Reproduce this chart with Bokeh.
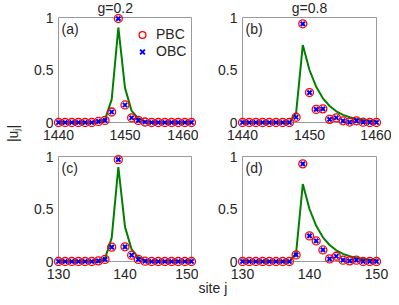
from bokeh.plotting import figure
from bokeh.layouts import gridplot, row
from bokeh.models import ColumnDataSource, Label, Legend, LegendItem, Range1d, FixedTicker, Title
from bokeh.embed import file_html
from bokeh.resources import INLINE

# ---------------- data ----------------
sites_top = [1440, 1441, 1442, 1443, 1444, 1445, 1446, 1447, 1448, 1449, 1450,
             1451, 1452, 1453, 1454, 1455, 1456, 1457, 1458, 1459, 1460]
sites_bot = [130, 131, 132, 133, 134, 135, 136, 137, 138, 139, 140,
             141, 142, 143, 144, 145, 146, 147, 148, 149, 150]

pbc_a = [0, 0, 0, 0, 0, 0, 0.01, 0.02, 0.10, 0.99, 0.167, 0.045, 0.02, 0.005, 0, 0, 0, 0, 0, 0, 0]
obc_a = [0, 0, 0, 0, 0, 0, 0.01, 0.02, 0.10, 0.99, 0.167, 0.045, 0.02, 0.005, 0, 0, 0, 0, 0, 0, 0]
line_a = [0, 0, 0, 0, 0, 0, 0, 0.03, 0.22, 0.905, 0.33, 0.11, 0.04, 0.008, 0.002, 0, 0, 0, 0, 0, 0]

pbc_b = [0, 0, 0, 0, 0, 0, 0, 0, 0.05, 0.94, 0.285, 0.125, 0.13, 0.03, 0.045, 0.016, 0.004, 0.016, 0.003, 0, 0]
obc_b = [0, 0, 0, 0, 0, 0, 0, 0, 0.05, 0.94, 0.285, 0.125, 0.13, 0.03, 0.045, 0.016, 0.004, 0.016, 0.003, 0, 0]
line_b = [0, 0, 0, 0, 0, 0, 0, 0, 0.09, 0.737, 0.50, 0.34, 0.23, 0.157, 0.107, 0.073, 0.05, 0.034, 0.023, 0.016, 0.011]

pbc_c = [0, 0, 0, 0, 0, 0, 0.006, 0.02, 0.137, 0.97, 0.14, 0.06, 0.02, 0.003, 0, 0, 0, 0, 0, 0, 0]
obc_c = [0, 0, 0, 0, 0, 0, 0.006, 0.02, 0.137, 0.97, 0.14, 0.06, 0.02, 0.003, 0, 0, 0, 0, 0, 0, 0]
line_c = [0, 0, 0, 0, 0, 0, 0, 0.03, 0.225, 0.90, 0.33, 0.115, 0.04, 0.01, 0.002, 0, 0, 0, 0, 0, 0]

pbc_d = [0, 0, 0, 0, 0, 0, 0, 0, 0.063, 0.93, 0.244, 0.196, 0.11, 0.025, 0.05, 0.013, 0.006, 0.013, 0, 0, 0]
obc_d = [0, 0, 0, 0, 0, 0, 0, 0, 0.063, 0.93, 0.244, 0.196, 0.11, 0.025, 0.05, 0.013, 0.006, 0.013, 0, 0, 0]
line_d = [0, 0, 0, 0, 0, 0, 0, 0, 0.08, 0.737, 0.50, 0.34, 0.23, 0.157, 0.107, 0.073, 0.05, 0.034, 0.023, 0.016, 0.011]

titles = ["g=0.2", "g=0.8"]
panel_tags = ["(a)", "(b)", "(c)", "(d)"]
x_ticks_top = [1440, 1450, 1460]
x_ticks_bot = [130, 140, 150]
y_ticks = [0, 0.5, 1]
y_label = "|uⱼ|"
x_label = "site j"

FONT = "Liberation Sans"
TXT = "#262626"
AX = "#9a9a9a"
BH = 105      # axes box height (px)
PAD = 5       # room around the box so markers on the box edges are not clipped


def make_panel(sites, pbc, obc, line, ticks, tag, left, bw, right, top, bottom,
               title=None, title_align="center", title_offset=0, legend=False):
    x0, x1 = sites[0], sites[-1]
    y0, y1 = y_ticks[0], y_ticks[-1]
    xpad = PAD * (x1 - x0) / bw
    ypad = PAD * (y1 - y0) / BH
    p = figure(frame_width=bw + 2 * PAD, frame_height=BH + 2 * PAD, output_backend="svg",
               toolbar_location=None,
               x_range=Range1d(x0 - xpad, x1 + xpad), y_range=Range1d(y0 - ypad, y1 + ypad),
               min_border_left=left, min_border_right=right, min_border_top=top, min_border_bottom=bottom)
    p.background_fill_color = "white"
    p.border_fill_color = "white"
    p.outline_line_color = None
    p.grid.visible = False
    for ax in (p.xaxis[0], p.yaxis[0]):
        ax.axis_line_color = None
        ax.major_tick_line_color = None
        ax.major_tick_in = 0
        ax.major_tick_out = 0
        ax.minor_tick_line_color = None
        ax.major_label_text_font = FONT
        ax.major_label_text_font_size = "14px"
        ax.major_label_text_color = TXT
    p.xaxis[0].ticker = FixedTicker(ticks=ticks)
    p.yaxis[0].ticker = FixedTicker(ticks=y_ticks)
    p.xaxis[0].major_label_standoff = 2
    p.yaxis[0].major_label_standoff = 0
    p.yaxis[0].major_label_overrides = {0: "0", 0.5: "0.5", 1: "1"}

    # axes box: an unfilled quad spanning the data extent, drawn first so the markers sit on top
    p.quad(left=[x0], right=[x1], bottom=[y0], top=[y1], fill_color=None,
           line_color=AX, line_width=1)

    src = ColumnDataSource(dict(x=sites, pbc=pbc, obc=obc, line=line))
    p.line("x", "line", source=src, line_color="#008000", line_width=2)
    rp = p.scatter("x", "pbc", source=src, marker="circle", size=8, fill_color=None,
                   line_color="#ff0000", line_width=1.3)
    ro = p.scatter("x", "obc", source=src, marker="x", size=6, line_color="#0000ff", line_width=2)

    p.add_layout(Label(x=x0, y=1 - 11.5 / BH, x_offset=3, text=tag, text_font=FONT, text_font_size="14px",
                       text_color=TXT, text_align="left", text_baseline="middle"))
    if title is not None:
        p.title = Title(text=title, align=title_align, offset=title_offset, vertical_align="bottom",
                        standoff=-6, text_font=FONT, text_font_size="14px", text_font_style="normal",
                        text_color=TXT)
    else:
        p.title = None
    if legend:
        lg = Legend(items=[LegendItem(label="PBC", renderers=[rp]), LegendItem(label="OBC", renderers=[ro])],
                    location=(79, BH + 2 * PAD - 47.5), orientation="vertical", border_line_color=None,
                    background_fill_alpha=0, padding=0, spacing=0, margin=0,
                    glyph_width=20, glyph_height=17, label_standoff=4,
                    label_text_font=FONT, label_text_font_size="14px", label_text_color=TXT)
        p.add_layout(lg, "center")
    return p


pa = make_panel(sites_top, pbc_a, obc_a, line_a, x_ticks_top, panel_tags[0], 29, 133, 2, 12, 18,
                titles[0], "left", 44, True)
pb = make_panel(sites_top, pbc_b, obc_b, line_b, x_ticks_top, panel_tags[1], 39, 134, 10, 12, 18,
                titles[1], "center", 0)
pc = make_panel(sites_bot, pbc_c, obc_c, line_c, x_ticks_bot, panel_tags[2], 29, 133, 2, 6, 30)
pd = make_panel(sites_bot, pbc_d, obc_d, line_d, x_ticks_bot, panel_tags[3], 39, 134, 10, 6, 30)

# "site j" below panel (d), shifted left to sit between the columns
pd.add_layout(Title(text=x_label, align="left", vertical_align="top", offset=-39, standoff=-4,
                    text_font=FONT, text_font_size="14px", text_font_style="normal", text_color=TXT), "below")

# narrow strip carrying the shared y label
yl = figure(width=24, height=296, output_backend="svg", toolbar_location=None,
            x_range=Range1d(0, 1), y_range=Range1d(0, 1), x_axis_location=None, y_axis_location="left",
            min_border_left=20, min_border_right=0, min_border_top=18, min_border_bottom=48)
yl.title = None
yl.outline_line_color = None
yl.grid.visible = False
yl.background_fill_color = "white"
yl.border_fill_color = "white"
yax = yl.yaxis[0]
yax.ticker = FixedTicker(ticks=[])
yax.axis_line_color = None
yax.major_tick_line_color = None
yax.minor_tick_line_color = None
yax.axis_label = y_label
yax.axis_label_standoff = 0
yax.axis_label_text_font = FONT
yax.axis_label_text_font_size = "14px"
yax.axis_label_text_font_style = "normal"
yax.axis_label_text_color = TXT

grid = gridplot([[pa, pb], [pc, pd]], toolbar_location=None)
layout = row(yl, grid)
open("out.html", "w").write(file_html(layout, INLINE))
